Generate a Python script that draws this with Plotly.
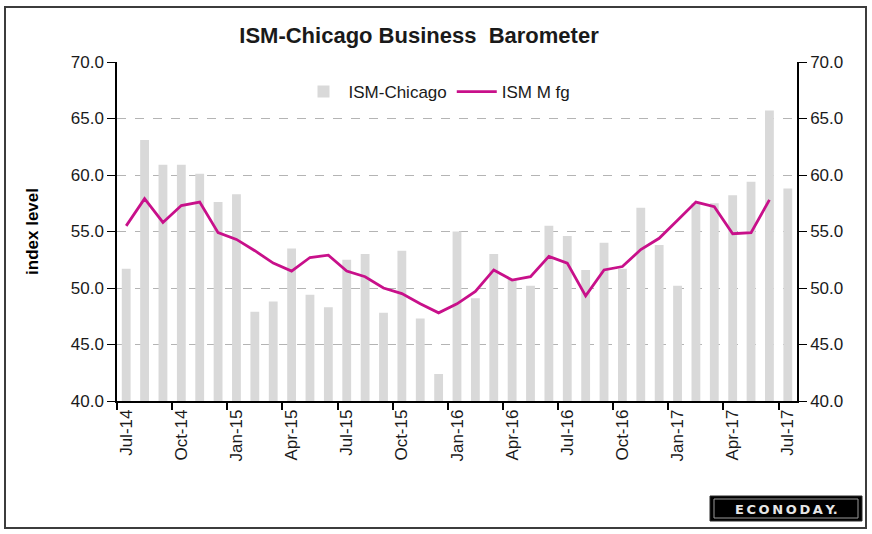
"""
ISM-Chicago Business Barometer vs ISM Manufacturing, Jul-14 to Jul-17.
"""
import plotly.graph_objects as go

months = [
    "Jul-14", "Aug-14", "Sep-14", "Oct-14", "Nov-14", "Dec-14",
    "Jan-15", "Feb-15", "Mar-15", "Apr-15", "May-15", "Jun-15",
    "Jul-15", "Aug-15", "Sep-15", "Oct-15", "Nov-15", "Dec-15",
    "Jan-16", "Feb-16", "Mar-16", "Apr-16", "May-16", "Jun-16",
    "Jul-16", "Aug-16", "Sep-16", "Oct-16", "Nov-16", "Dec-16",
    "Jan-17", "Feb-17", "Mar-17", "Apr-17", "May-17", "Jun-17",
    "Jul-17",
]
ism_chicago = [
    51.7, 63.1, 60.9, 60.9, 60.1, 57.6,
    58.3, 47.9, 48.8, 53.5, 49.4, 48.3,
    52.5, 53.0, 47.8, 53.3, 47.3, 42.4,
    55.0, 49.1, 53.0, 50.8, 50.2, 55.5,
    54.6, 51.6, 54.0, 51.7, 57.1, 53.8,
    50.2, 57.5, 57.5, 58.2, 59.4, 65.7,
    58.8,
]
ism_mfg = [
    55.5, 57.9, 55.8, 57.3, 57.6, 54.9,
    54.3, 53.3, 52.2, 51.5, 52.7, 52.9,
    51.5, 51.0, 50.0, 49.5, 48.6, 47.8,
    48.6, 49.7, 51.6, 50.7, 51.0, 52.8,
    52.2, 49.3, 51.6, 51.9, 53.4, 54.4,
    56.0, 57.6, 57.2, 54.8, 54.9, 57.8,
    None,
]
label_months = months[::3]
y_ticks = [40, 45, 50, 55, 60, 65, 70]

idx = list(range(len(months)))
FONT = "Liberation Sans, Arial, sans-serif"
TXT = "#1a1a1a"

# plot area in pixels, used to place the frame and logo in paper coords
L, R, T, B = 117, 797, 62, 401


def px(x):
    return (x - L) / (R - L)


def py(y):
    return (B - y) / (B - T)


fig = go.Figure()
fig.add_trace(go.Bar(
    x=idx, y=ism_chicago, name="ISM-Chicago", width=0.48,
    marker=dict(color="#d9d9d9", line=dict(width=0)),
    base=0,
))
fig.add_trace(go.Scatter(
    x=idx, y=ism_mfg, name="ISM M fg", mode="lines",
    line=dict(color="#c8108a", width=2.8),
))
# invisible trace to carry the right-hand axis
fig.add_trace(go.Scatter(x=[0], y=[40], yaxis="y2", showlegend=False,
                         mode="markers", marker=dict(opacity=0),
                         hoverinfo="skip"))

fig.update_layout(
    width=872, height=534,
    margin=dict(l=L, r=872 - R, t=T, b=534 - B),
    paper_bgcolor="white", plot_bgcolor="white",
    font=dict(family=FONT, size=17, color=TXT),
    title=dict(text="<b>ISM-Chicago Business\u00a0 Barometer</b>",
               xref="container", x=419 / 872, xanchor="center",
               y=1 - 35 / 534, yanchor="middle",
               font=dict(size=22, color=TXT)),
    showlegend=True,
    legend=dict(orientation="h", x=px(437), xanchor="center", y=py(92),
                yanchor="middle", bgcolor="rgba(0,0,0,0)",
                font=dict(size=17, color=TXT), itemwidth=40),
    bargap=0.5,
    xaxis=dict(
        range=[-0.5, len(months) - 0.5],
        tickvals=idx[::3], ticktext=label_months, tickangle=-90,
        ticks="", showgrid=False, zeroline=False,
        showline=True, linecolor="black", linewidth=1.5,
        tickfont=dict(size=17, color=TXT),
        minor=dict(tickvals=[i - 0.5 for i in idx[::3]], ticks="outside",
                   ticklen=7, tickcolor="black", tickwidth=1.5),
    ),
    yaxis=dict(
        range=[40, 70], tickvals=y_ticks,
        ticktext=[f"{v:.1f}" for v in y_ticks],
        ticks="outside", ticklen=8, tickcolor="black", tickwidth=1.2,
        showline=True, linecolor="black", linewidth=1.5,
        showgrid=True, gridcolor="#b4b4b4", griddash="dash", gridwidth=1,
        zeroline=False, tickfont=dict(size=17, color=TXT),
        title=dict(text="<b>index level</b>", font=dict(size=17, color="black"),
                   standoff=28),
    ),
    yaxis2=dict(
        range=[40, 70], tickvals=y_ticks,
        ticktext=[f"{v:.1f}" for v in y_ticks],
        overlaying="y", side="right",
        ticks="outside", ticklen=8, tickcolor="black", tickwidth=1.2,
        showline=True, linecolor="black", linewidth=1.5,
        showgrid=False, zeroline=False, tickfont=dict(size=17, color=TXT),
    ),
    shapes=[
        dict(type="rect", xref="paper", yref="paper",
             x0=px(5), x1=px(866), y0=py(528), y1=py(7),
             line=dict(color="#3c3c3c", width=2), layer="below"),
        dict(type="rect", xref="paper", yref="paper",
             x0=px(710), x1=px(862), y0=py(521), y1=py(496),
             fillcolor="black", line=dict(color="#2a2a2a", width=1)),
        dict(type="rect", xref="paper", yref="paper",
             x0=px(714), x1=px(858), y0=py(518), y1=py(499),
             fillcolor="black", line=dict(color="#9a9a9a", width=1)),
    ],
    annotations=[
        dict(text="<b>E\u2009C\u2009O\u2009N\u2009O\u2009D\u2009A\u2009Y.</b>",
             xref="paper", yref="paper", x=px(786), y=py(509),
             xanchor="center", yanchor="middle", showarrow=False,
             font=dict(family="DejaVu Sans, sans-serif", size=13,
                       color="#e6e6e6")),
    ],
)

fig.write_html("out.html", config={"displayModeBar": False},
               post_script="document.body.style.margin='0';")
